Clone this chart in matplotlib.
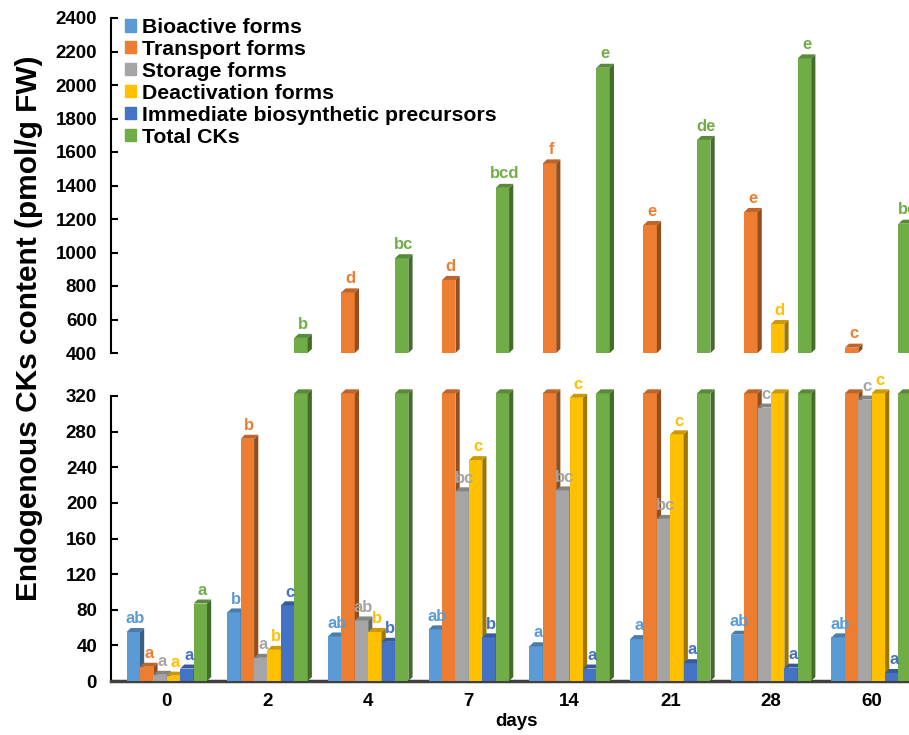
import matplotlib.pyplot as plt
from matplotlib.patches import Polygon
from matplotlib.colors import to_rgb
import numpy as np

days = ["0", "2", "4", "7", "14", "21", "28", "60"]
series = ["Bioactive forms", "Transport forms", "Storage forms",
          "Deactivation forms", "Immediate biosynthetic precursors", "Total CKs"]

bioactive = [55, 77, 50, 58, 39, 47, 52, 49]
transport = [16, 272, 762, 836, 1532, 1164, 1242, 432]
storage = [7, 26, 68, 213, 214, 182, 307, 316]
deactivation = [6, 35, 55, 248, 318, 277, 573, 340]
precursors = [14, 85, 44, 49, 14, 20, 15, 9]
total = [87, 490, 966, 1386, 2103, 1672, 2159, 1172]

letters_bio = ["ab", "b", "ab", "ab", "a", "a", "ab", "ab"]
letters_tra = ["a", "b", "d", "d", "f", "e", "e", "c"]
letters_sto = ["a", "a", "ab", "bc", "bc", "bc", "c", "c"]
letters_dea = ["a", "b", "b", "c", "c", "c", "d", "c"]
letters_pre = ["a", "c", "b", "b", "a", "a", "a", "a"]
letters_tot = ["a", "b", "bc", "bcd", "e", "de", "e", "bc"]

colors = ["#5B9BD5", "#ED7D31", "#A5A5A5", "#FFC000", "#4472C4", "#70AD47"]

values = [bioactive, transport, storage, deactivation, precursors, total]
letters = [letters_bio, letters_tra, letters_sto, letters_dea, letters_pre, letters_tot]

plt.rcParams["font.family"] = ["Liberation Sans", "DejaVu Sans"]
plt.rcParams["font.weight"] = "bold"

W, H = 909, 735
fig = plt.figure(figsize=(W / 100, H / 100), dpi=100)

px_unit = 100.7  # pixels per group
x_left = -0.554
x_right = x_left + 816.5 / px_unit
ax_w = 816.5 / W

ax_top = fig.add_axes([111 / W, (H - 353) / H, ax_w, 335 / H])
ax_bot = fig.add_axes([111 / W, (H - 681) / H, ax_w, 285 / H])

top_lim = (400, 2400)
bot_lim = (0, 320)
cap = 323

bw = 13.4 / px_unit
dx = 4.2 / px_unit
dy_top = 4 * (top_lim[1] - top_lim[0]) / 335
dy_bot = 4 * (bot_lim[1] - bot_lim[0]) / 285
x = np.arange(len(days))


def shade(c, f):
    r, g, b = to_rgb(c)
    return (r * f, g * f, b * f)


def bar3d(ax, xc, bottom, top, color, dy, z):
    ax.bar(xc, top - bottom, bw, bottom=bottom, color=color, zorder=z,
           clip_on=False, linewidth=0)
    xr = xc + bw / 2
    xl = xc - bw / 2
    side = Polygon([(xr, bottom), (xr + dx, bottom + dy), (xr + dx, top + dy), (xr, top)],
                   closed=True, facecolor=shade(color, 0.62), edgecolor="none",
                   zorder=z, clip_on=False)
    cap_face = Polygon([(xl, top), (xl + dx, top + dy), (xr + dx, top + dy), (xr, top)],
                       closed=True, facecolor=shade(color, 0.8), edgecolor="none",
                       zorder=z, clip_on=False)
    ax.add_patch(side)
    ax.add_patch(cap_face)


for gi in range(len(days)):
    for si in range(len(series)):
        v = values[si][gi]
        xc = x[gi] + (si - 2.5) * bw
        z = 3 + si * 0.01 + gi
        bar3d(ax_bot, xc, 0, min(v, cap), colors[si], dy_bot, z)
        if v > 400:
            bar3d(ax_top, xc, 400, v, colors[si], dy_top, z)
            ax_top.text(xc + dx / 2, v + dy_top + 14, letters[si][gi], ha="center",
                        va="bottom", fontsize=12, fontweight="bold",
                        color=colors[si], zorder=20, clip_on=False)
        else:
            ax_bot.text(xc + dx / 2, min(v, cap) + dy_bot + 2, letters[si][gi],
                        ha="center", va="bottom", fontsize=12, fontweight="bold",
                        color=colors[si], zorder=20, clip_on=False)

for ax in (ax_top, ax_bot):
    ax.set_xlim(x_left, x_right)
    for s in ("top", "right"):
        ax.spines[s].set_visible(False)
    ax.spines["left"].set_linewidth(1.5)
    ax.tick_params(axis="y", direction="in", length=5, width=1.5, labelsize=13.5, pad=10)
    ax.set_facecolor("none")

ax_top.set_ylim(*top_lim)
ax_top.set_yticks(np.arange(400, 2401, 200))
ax_top.spines["bottom"].set_visible(False)
ax_top.set_xticks([])

ax_bot.set_ylim(*bot_lim)
ax_bot.set_yticks(np.arange(0, 321, 40))
ax_bot.spines["bottom"].set_linewidth(2.5)
ax_bot.spines["bottom"].set_color("#404040")
ax_bot.set_xticks(x)
ax_bot.set_xticklabels(days, fontsize=13.5, fontweight="bold")
ax_bot.tick_params(axis="x", length=0, pad=9)
for ax in (ax_top, ax_bot):
    for lab in ax.get_yticklabels():
        lab.set_fontweight("bold")

fig.text(517 / W, 1 - 722 / H, "days", ha="center", va="center", fontsize=13.5,
         fontweight="bold")
fig.text(29 / W, 1 - 328 / H, "Endogenous CKs content (pmol/g FW)", rotation=90,
         ha="center", va="center", fontsize=21.5, fontweight="bold")

handles = [plt.Rectangle((0, 0), 1, 1, color=c) for c in colors]
fig.legend(handles, series, loc="upper left", bbox_to_anchor=(125 / W, 1 - 18 / H),
           frameon=False, prop={"weight": "bold", "size": 15.3},
           handlelength=0.5, handleheight=0.5, handletextpad=0.3, labelspacing=0.14,
           borderaxespad=0, borderpad=0)

fig.savefig("out.png", dpi=100)
